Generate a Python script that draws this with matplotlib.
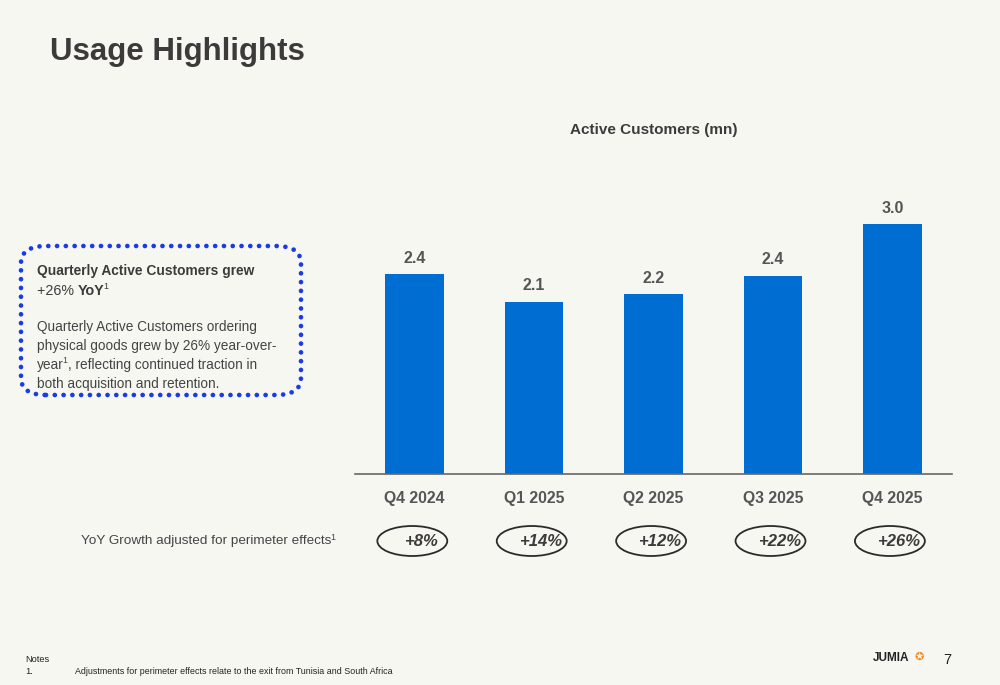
import matplotlib.pyplot as plt
from matplotlib.patches import Ellipse, FancyBboxPatch

quarters = ["Q4 2024", "Q1 2025", "Q2 2025", "Q3 2025", "Q4 2025"]
customers_mn = [2.40, 2.07, 2.16, 2.38, 3.00]
yoy_growth = ["+8%", "+14%", "+12%", "+22%", "+26%"]

FONT = "Liberation Sans"
plt.rcParams["font.family"] = [FONT, "DejaVu Sans"]

BG = "#f7f7f2"
BLUE = "#006dd2"
DARK = "#3d3b3a"
GREY = "#555555"

fig = plt.figure(figsize=(10, 6.85), dpi=100, facecolor=BG)

W, H = 1000, 685
def fx(px): return px / W
def fy(py): return 1 - py / H

def sup(prev, s, size, color):
    # small superscript right after an existing text artist
    return plt.annotate(s, xy=(1, 1), xycoords=prev, xytext=(-0.8, 1.5), textcoords="offset points",
                        ha="left", va="top", fontsize=size, color=color, annotation_clip=False)

# main chart axes: x from 355 to 952 px, baseline at y=474
ax = fig.add_axes([fx(355), fy(474), fx(952) - fx(355), (474 - 190) / H])
ax.set_facecolor("none")
x = range(len(quarters))
ax.bar(x, customers_mn, width=0.49, color=BLUE, zorder=2)
ax.set_xlim(-0.5, 4.5)
ymax = 3.0 * (474 - 190) / (474 - 224)
ax.set_ylim(0, ymax)
for s in ["top", "right", "left"]:
    ax.spines[s].set_visible(False)
ax.spines["bottom"].set_color("#666666")
ax.spines["bottom"].set_linewidth(1.2)
ax.set_yticks([])
ax.set_xticks(list(x))
ax.set_xticklabels(quarters, fontsize=11.3, fontweight="bold", color=GREY)
ax.tick_params(axis="x", length=0, pad=12)

for i, v in enumerate(customers_mn):
    ax.annotate(f"{v:.1f}", (i, v), xytext=(0, 6), textcoords="offset points",
                ha="center", va="bottom", fontsize=11.5, fontweight="bold", color=GREY)

ax.text(2, ymax + (190 - 130) / 250 * 3.0, "Active Customers (mn)", ha="center", va="center",
        fontsize=11, fontweight="bold", color=DARK, clip_on=False)

# growth ellipses
ppu = (474 - 224) / 3.0
yc = -(541 - 474) / ppu
for i, g in enumerate(yoy_growth):
    e = Ellipse((i - 0.02, yc), width=70 / 119.5, height=30 / ppu, fill=False,
                edgecolor="#2b2b2b", linewidth=1.3, clip_on=False)
    ax.add_patch(e)
    ax.text(i + 0.06, yc, g, ha="center", va="center", fontsize=12,
            fontweight="bold", style="italic", color=DARK, clip_on=False)

t = fig.text(fx(331), fy(541), "YoY Growth adjusted for perimeter effects",
             ha="right", va="center", fontsize=9.7, color="#444444")
sup(t, "1", 6.5, "#444444")

# title
fig.text(fx(50), fy(52), "Usage Highlights", ha="left", va="center",
         fontsize=22.5, fontweight="bold", color=DARK)

# dotted callout box
box = FancyBboxPatch((fx(21), fy(395)), fx(301) - fx(21), (395 - 246) / H,
                     boxstyle="round,pad=0,rounding_size=0.025", transform=fig.transFigure,
                     fill=False, edgecolor="#1b3be6", linewidth=3.4,
                     linestyle=(0, (0.01, 1.85)), capstyle="round")
fig.add_artist(box)
fig.text(fx(37), fy(271), "Quarterly Active Customers grew", ha="left", va="center",
         fontsize=9.9, fontweight="bold", color=DARK)
t1 = fig.text(fx(37), fy(291), "+26% ", ha="left", va="center", fontsize=10.3, color=DARK)
t2 = plt.annotate("YoY", xy=(1, 0.5), xycoords=t1, xytext=(0, 0), textcoords="offset points",
                  ha="left", va="center", fontsize=10.3, fontweight="bold", color=DARK,
                  annotation_clip=False)
sup(t2, "1", 6.5, DARK)

body = ["Quarterly Active Customers ordering",
        "physical goods grew by 26% year-over-",
        None,
        "both acquisition and retention."]
for k, line in enumerate(body):
    if line is None:
        continue
    fig.text(fx(37), fy(327 + 19 * k), line, ha="left", va="center",
             fontsize=9.8, color="#444444")
ty = fig.text(fx(37), fy(327 + 19 * 2), "year", ha="left", va="center",
              fontsize=9.8, color="#444444")
sup(ty, "1", 6.3, "#444444")
plt.annotate(", reflecting continued traction in", xy=(1, 0.5), xycoords=ty,
             xytext=(3, 0), textcoords="offset points", ha="left", va="center",
             fontsize=9.8, color="#444444", annotation_clip=False)

# notes
fig.text(fx(25), fy(659), "Notes", ha="left", va="center", fontsize=6.7, color="#222222")
fig.text(fx(25), fy(671), "1.", ha="left", va="center", fontsize=6.7, color="#222222")
fig.text(fx(75), fy(671), "Adjustments for perimeter effects relate to the exit from Tunisia and South Africa",
         ha="left", va="center", fontsize=6.4, color="#222222")

# logo and page number
fig.text(fx(873), fy(658), "JUMIA", ha="left", va="center", fontsize=8.5,
         fontweight="bold", color="#222222")
fig.text(fx(919), fy(657), "\u272a", ha="center", va="center", fontsize=8,
         color="#f68b1e", family=["DejaVu Sans"])
fig.text(fx(947), fy(660), "7", ha="center", va="center", fontsize=10.5, color="#222222")

fig.savefig("out.png", dpi=100, facecolor=BG)
